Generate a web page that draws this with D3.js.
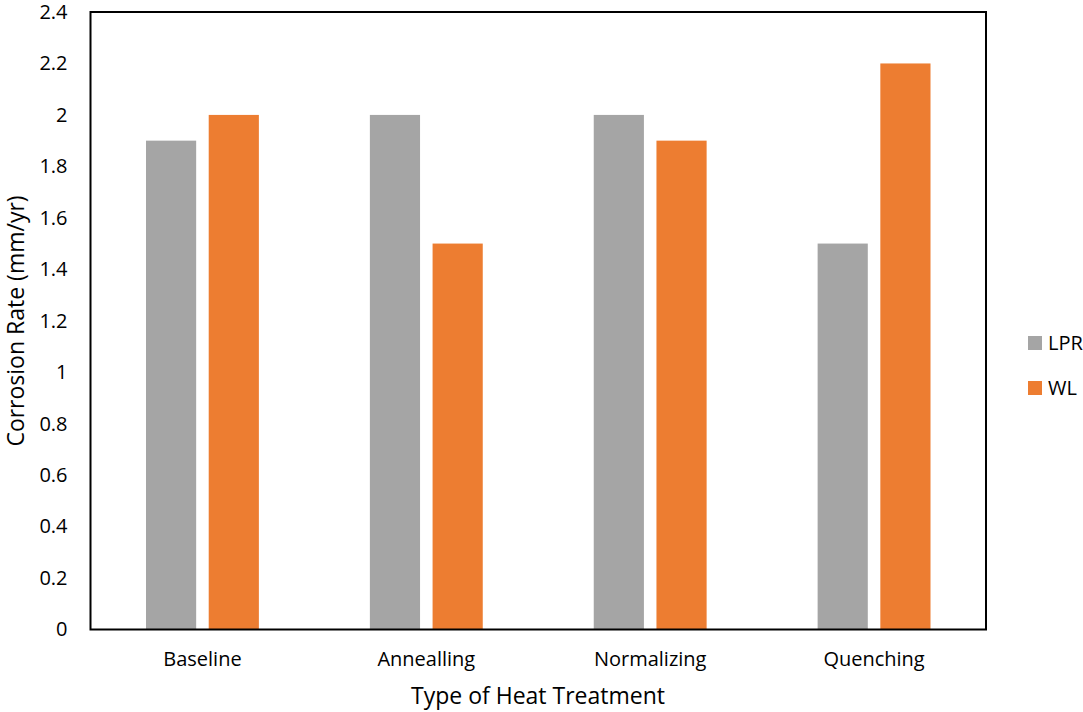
<!DOCTYPE html>
<html><head><meta charset="utf-8">
<script src="https://cdn.jsdelivr.net/npm/d3@7"></script>
<style>body{margin:0;background:#fff}svg{display:block}text{font-family:"Open Sans",sans-serif;fill:#000}</style>
</head><body>
<svg id="c" width="1083" height="712"></svg>
<script>
const categories = ["Baseline","Annealling","Normalizing","Quenching"];
const seriesNames = ["LPR","WL"];
const lprValues = [1.9, 2.0, 2.0, 1.5];
const wlValues = [2.0, 1.5, 1.9, 2.2];
const yTicks = [0,0.2,0.4,0.6,0.8,1,1.2,1.4,1.6,1.8,2,2.2,2.4];
const colors = ["#A5A5A5","#ED7D31"];

const svg = d3.select("#c");
const L=90.5, R=986, T=12, B=629.5;
const x = d3.scaleBand().domain(categories).range([L,R]).paddingInner(0).paddingOuter(0);
const x1 = d3.scaleBand().domain(seriesNames).range([55.5, x.bandwidth()-55.5]).paddingInner(0.2);
const y = d3.scaleLinear().domain([0,2.4]).range([B,T]);
const series = [lprValues, wlValues];

const g = svg.append("g");
categories.forEach((c,i)=>{
  seriesNames.forEach((s,j)=>{
    g.append("rect")
      .attr("x", x(c)+x1(s))
      .attr("width", x1.bandwidth())
      .attr("y", y(series[j][i]))
      .attr("height", y(0)-y(series[j][i]))
      .attr("fill", colors[j]);
  });
});

// frame
svg.append("rect").attr("x",L).attr("y",T).attr("width",R-L).attr("height",B-T)
  .attr("fill","none").attr("stroke","#000").attr("stroke-width",2);

const ff = "'Open Sans',sans-serif";
// y axis
const ya = svg.append("g").attr("transform",`translate(${L},0)`)
  .call(d3.axisLeft(y).tickValues(yTicks).tickSize(0).tickPadding(23).tickFormat(d=>String(d)));
ya.select(".domain").remove();
ya.selectAll("text").style("font-size","20px").style("font-family",ff).attr("fill","#000");

// x axis
const xa = svg.append("g").attr("transform",`translate(0,${B})`)
  .call(d3.axisBottom(x).tickSize(0).tickPadding(22));
xa.select(".domain").remove();
xa.selectAll("text").style("font-size","20px").style("font-family",ff).attr("fill","#000");

svg.append("text").attr("x",538).attr("y",704).attr("text-anchor","middle")
  .style("font-size","23px").text("Type of Heat Treatment");
svg.append("text").attr("transform",`translate(24,${321}) rotate(-90)`).attr("text-anchor","middle")
  .style("font-size","23px").text("Corrosion Rate (mm/yr)");

// legend
seriesNames.forEach((s,j)=>{
  const ly = 336 + j*45;
  svg.append("rect").attr("x",1028).attr("y",ly).attr("width",14).attr("height",14).attr("fill",colors[j]);
  svg.append("text").attr("x",1048).attr("y",ly+14).style("font-size","20px").text(s);
});
</script>
</body></html>
